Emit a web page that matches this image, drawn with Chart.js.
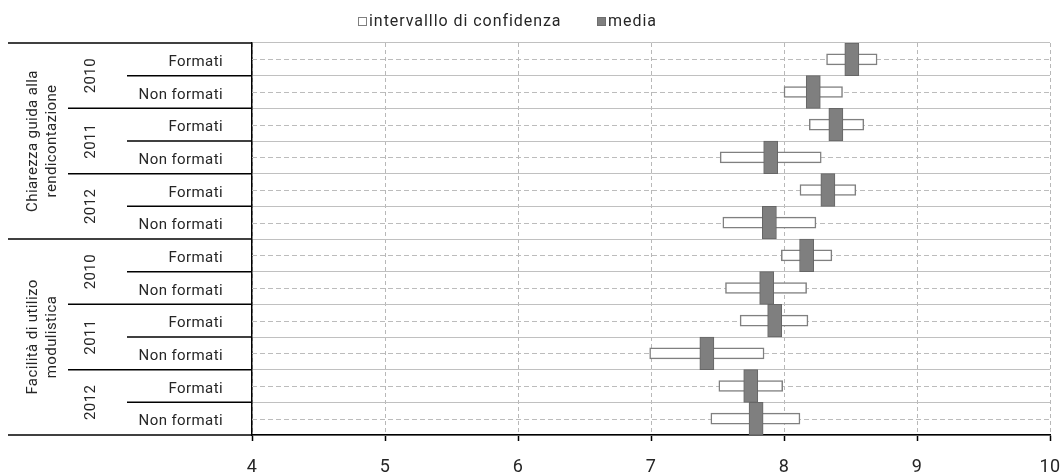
<!DOCTYPE html>
<html>
<head>
<meta charset="utf-8">
<script src="https://cdn.jsdelivr.net/npm/chart.js@4/dist/chart.umd.min.js"></script>
<style>
html,body{margin:0;padding:0;background:#fff;}
#wrap{position:relative;width:1062px;height:474px;overflow:hidden;}
#legend{position:absolute;top:10px;left:0;width:1062px;height:22px;font-family:Roboto,sans-serif;font-size:16px;letter-spacing:0.95px;color:#262626;}
.item{position:absolute;top:0;line-height:22px;white-space:nowrap;}
.box{display:inline-block;width:7px;height:7px;border:1px solid #7f7f7f;vertical-align:0px;margin-right:2px;}
canvas{position:absolute;left:0;top:0;}
</style>
</head>
<body>
<div id="wrap">
  <canvas id="c" width="1062" height="474"></canvas>
  <div id="legend">
    <span class="item" style="left:358px"><span class="box" style="background:#fff"></span><span id="lg0"></span></span>
    <span class="item" style="left:597px"><span class="box" style="background:#7f7f7f;border-color:#6e6e6e"></span><span id="lg1"></span></span>
  </div>
</div>
<script>
// ---- data ----
const groups = ['Chiarezza guida alla\nrendicontazione', 'Facilità di utilizo\nmodulistica'];
const years = ['2010', '2011', '2012'];
const rowLabels = ['Formati','Non formati','Formati','Non formati','Formati','Non formati',
                   'Formati','Non formati','Formati','Non formati','Formati','Non formati'];
const ciLow  = [8.32, 8.00, 8.19, 7.52, 8.12, 7.54, 7.98, 7.56, 7.67, 6.99, 7.51, 7.45];
const ciHigh = [8.70, 8.44, 8.60, 8.28, 8.54, 8.24, 8.36, 8.17, 8.18, 7.85, 7.99, 8.12];
const mean   = [8.51, 8.22, 8.39, 7.90, 8.33, 7.89, 8.17, 7.87, 7.93, 7.42, 7.75, 7.79];
const xTicks = [4, 5, 6, 7, 8, 9, 10];
const seriesNames = ['intervalllo di confidenza', 'media'];

document.getElementById('lg0').textContent = seriesNames[0];
document.getElementById('lg1').textContent = seriesNames[1];

const MEAN_HALF = 0.053;
const FONT = 'Roboto, sans-serif';
const TXT = '#262626';
const SPACING = '0.4px';

const spacingPlugin = {
  id: 'spacing',
  beforeUpdate(chart) { chart.ctx.letterSpacing = SPACING; },
  beforeDraw(chart) { chart.ctx.letterSpacing = SPACING; }
};

const tablePlugin = {
  id: 'table',
  beforeDatasetsDraw(chart) {
    const {ctx, chartArea: a, scales: {y}} = chart;
    ctx.save();
    ctx.strokeStyle = '#bcbcbc';
    ctx.lineWidth = 1;
    ctx.setLineDash([5, 3]);
    rowLabels.forEach((_, i) => {
      const py = Math.round(y.getPixelForValue(i)) + 0.5;
      ctx.beginPath(); ctx.moveTo(a.left, py); ctx.lineTo(a.right, py); ctx.stroke();
    });
    ctx.restore();
  },
  afterDraw(chart) {
    const {ctx, chartArea: a, scales: {y}} = chart;
    const n = rowLabels.length;
    const half = (y.getPixelForValue(1) - y.getPixelForValue(0)) / 2;
    ctx.save();
    ctx.strokeStyle = '#000';
    ctx.lineWidth = 1.5;
    for (let i = -1; i < n; i++) {
      const py = y.getPixelForValue(Math.max(i, 0)) + (i < 0 ? -half : half);
      let x0;
      if (i === -1 || i === n - 1 || i === n / 2 - 1) x0 = 8;
      else if (i % 2 === 1) x0 = 68;
      else x0 = 127;
      ctx.beginPath(); ctx.moveTo(x0, py); ctx.lineTo(a.left, py); ctx.stroke();
    }
    ctx.fillStyle = TXT;
    ctx.font = '15px ' + FONT;
    ctx.textAlign = 'center';
    ctx.textBaseline = 'middle';
    const rot = (txt, x, yc) => {
      ctx.save(); ctx.translate(x, yc); ctx.rotate(-Math.PI / 2); ctx.fillText(txt, 0, 0); ctx.restore();
    };
    groups.forEach((g, gi) => {
      const yc = (y.getPixelForValue(gi * 6) + y.getPixelForValue(gi * 6 + 5)) / 2;
      const lines = g.split('\n');
      lines.forEach((ln, li) => rot(ln, 33 + li * 19, yc));
      years.forEach((yr, yi) => {
        const r = gi * 6 + yi * 2;
        const yc2 = (y.getPixelForValue(r) + y.getPixelForValue(r + 1)) / 2;
        rot(yr, 91, yc2);
      });
    });
    ctx.restore();
  }
};

new Chart(document.getElementById('c'), {
  type: 'bar',
  data: {
    labels: rowLabels,
    datasets: [
      {
        label: seriesNames[1],
        data: mean.map(m => [m - MEAN_HALF, m + MEAN_HALF]),
        backgroundColor: '#7f7f7f',
        borderColor: '#666666',
        borderWidth: 1,
        borderSkipped: false,
        grouped: false,
        barPercentage: 1,
        categoryPercentage: 1
      },
      {
        label: seriesNames[0],
        data: ciLow.map((l, i) => [l, ciHigh[i]]),
        backgroundColor: '#ffffff',
        borderColor: '#808080',
        borderWidth: 1.5,
        borderSkipped: false,
        grouped: false,
        barThickness: 11
      }
    ]
  },
  options: {
    indexAxis: 'y',
    responsive: false,
    animation: false,
    devicePixelRatio: 1,
    layout: {padding: {top: 43, right: 12, left: 0, bottom: 0}},
    plugins: {legend: {display: false}, tooltip: {enabled: false}},
    scales: {
      x: {
        type: 'linear', min: xTicks[0], max: xTicks[xTicks.length - 1],
        afterBuildTicks(s) { s.ticks = xTicks.map(v => ({value: v})); },
        ticks: {color: TXT, font: {family: FONT, size: 18}, padding: 16},
        grid: {color: '#b8b8b8', lineWidth: 1, tickColor: '#000', tickLength: 6, tickWidth: 1.5},
        border: {display: true, color: '#000', width: 1.5, dash: [4, 3]},
        afterFit(s) { s.height = 39; s.paddingRight = 0; s.paddingLeft = 0; }
      },
      y: {
        ticks: {color: TXT, font: {family: FONT, size: 15}, padding: 29, labelOffset: 3},
        grid: {color: '#c0c0c0', lineWidth: 1, drawTicks: false, offset: true},
        border: {display: true, color: '#000', width: 1.5},
        afterFit(s) { s.width = 252; }
      }
    }
  },
  plugins: [spacingPlugin, tablePlugin]
});
</script>
</body>
</html>
